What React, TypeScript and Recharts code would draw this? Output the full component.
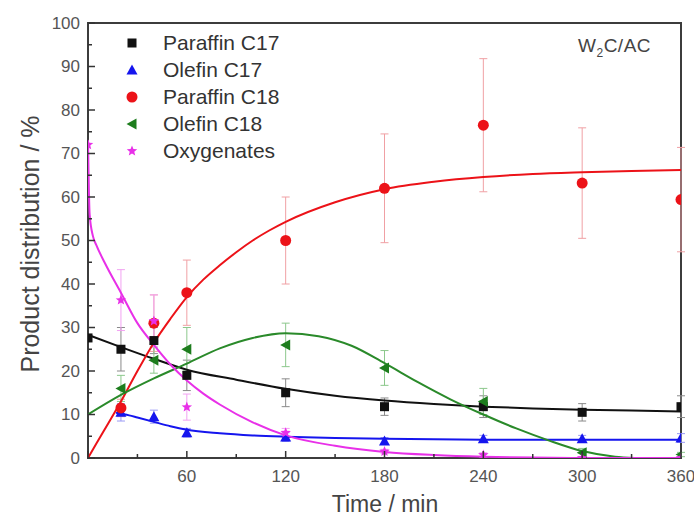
import {
  ComposedChart,
  ErrorBar,
  Line,
  ReferenceArea,
  Scatter,
  XAxis,
  YAxis,
} from "recharts"

// sampled reaction times (min)
const times = [0, 20, 40, 60, 120, 180, 240, 300, 360]

// measured product distribution (%), null = not measured
const paraffinC17 = [27.6, 25, 27, 19, 15, 11.8, 11.8, 10.5, 11.8]
const paraffinC17Err = [0, 5, 3, 3.5, 3.2, 2, 2.5, 2, 2.5]
const olefinC17 = [null, 10.5, 9.5, 5.8, 4.8, 3.9, 4.4, 4.4, 4.6]
const olefinC17Err = [0, 2, 1.5, 1, 1, 0.8, 0.8, 0.8, 1]
const paraffinC18 = [null, 11.5, 31, 38, 50, 62, 76.5, 63.2, 59.4]
const paraffinC18Err = [0, 2, 6.5, 7.5, 10, 12.5, 15.3, 12.7, 12]
const olefinC18 = [null, 16, 22.5, 25, 26, 20.7, 13, 1.2, 0.8]
const olefinC18Err = [0, 3, 3, 5, 5, 4, 3, 1, 0.5]
const oxygenates = [72, 36.3, 31.5, 11.7, 5.8, 1.5, 0.7, 0, 0]
const oxygenatesErr = [0, 7, 6, 3, 1, 0.5, 0.5, 0, 0]

// fitted curves
const paraffinC17FitT = [0, 20, 40, 60, 90, 120, 150, 180, 210, 240, 270, 300, 330, 360]
const paraffinC17Fit = [28.3, 25.5, 22.8, 20.3, 18, 15.9, 14.3, 13.2, 12.4, 11.8, 11.4, 11.1, 10.9, 10.7]
const olefinC17FitT = [17, 25, 30, 40, 50, 60, 80, 100, 120, 150, 180, 240, 300, 360]
const olefinC17Fit = [10.4, 9.8, 9.3, 8.3, 7.3, 6.5, 5.7, 5.2, 4.9, 4.6, 4.4, 4.2, 4.2, 4.2]
const paraffinC18FitT = [0, 10, 20, 30, 40, 50, 60, 70, 80, 90, 100, 110, 120, 150, 180, 210, 240, 270, 300, 330, 360]
const paraffinC18Fit = [0, 6.5, 13, 20, 26.5, 32, 37, 41, 44.3, 47.3, 50, 52.3, 54.3, 58.8, 61.8, 63.5, 64.6, 65.3, 65.7, 66, 66.2]
const olefinC18FitT = [0, 20, 40, 60, 80, 100, 120, 140, 160, 180, 200, 220, 240, 260, 280, 300, 320, 332]
const olefinC18Fit = [10, 14.5, 18.3, 21.7, 25.2, 27.6, 28.7, 28, 25.8, 21.8, 17.5, 13.5, 10, 6.8, 4, 1.6, 0.3, 0]
const oxygenatesFitT = [0, 1, 3, 5, 10, 20, 30, 40, 50, 60, 70, 80, 100, 120, 150, 180, 210, 240, 270, 300, 360]
const oxygenatesFit = [73, 56, 51, 49, 45, 38, 31, 26, 21.5, 17.8, 14.8, 12.3, 8.2, 5.2, 2.8, 1.4, 0.7, 0.3, 0.1, 0, 0]

const xTicks = [0, 30, 60, 90, 120, 150, 180, 210, 240, 270, 300, 330, 360]
const yTicks = [0, 5, 10, 15, 20, 25, 30, 35, 40, 45, 50, 55, 60, 65, 70, 75, 80, 85, 90, 95, 100]

const FONT = "'Liberation Sans', Arial, sans-serif"

const C = {
  black: "#111111",
  blue: "#1515ee",
  red: "#ec1218",
  green: "#1d7d1d",
  magenta: "#e830e8",
}

function points(vals: (number | null)[], errs: number[]) {
  return times
    .map((t, i) => ({ t, v: vals[i], e: errs[i] }))
    .filter((d) => d.v !== null)
}

function curve(ts: number[], vs: number[]) {
  return ts.map((t, i) => ({ t, v: vs[i] }))
}

function starPath(cx: number, cy: number, ro: number, ri: number) {
  let d = ""
  for (let k = 0; k < 10; k++) {
    const r = k % 2 === 0 ? ro : ri
    const a = -Math.PI / 2 + (k * Math.PI) / 5
    d += (k === 0 ? "M" : "L") + (cx + r * Math.cos(a)).toFixed(2) + "," + (cy + r * Math.sin(a)).toFixed(2)
  }
  return d + "Z"
}

const square = (p: any) => <rect x={p.cx - 4.5} y={p.cy - 4.5} width={9} height={9} fill={C.black} />
const upTri = (p: any) => (
  <path d={`M${p.cx},${p.cy - 5.5}L${p.cx + 5.5},${p.cy + 4.5}L${p.cx - 5.5},${p.cy + 4.5}Z`} fill={C.blue} />
)
const dot = (p: any) => <circle cx={p.cx} cy={p.cy} r={5.5} fill={C.red} />
const leftTri = (p: any) => (
  <path d={`M${p.cx - 5.5},${p.cy}L${p.cx + 4.5},${p.cy - 5.5}L${p.cx + 4.5},${p.cy + 5.5}Z`} fill={C.green} />
)
const star = (p: any) => <path d={starPath(p.cx, p.cy, 5.5, 2.4)} fill={C.magenta} />

function XTick(props: any) {
  const { x, y, payload } = props
  const v = payload.value
  const major = v % 60 === 0
  return (
    <g>
      <line x1={x} x2={x} y1={y} y2={y - (major ? 7 : 4)} stroke="#333" strokeWidth={1.5} />
      {major && v !== 0 && (
        <text x={x} y={y + 24} textAnchor="middle" fontSize={17} fill="#555" fontFamily={FONT}>
          {v}
        </text>
      )}
    </g>
  )
}

function YTick(props: any) {
  const { x, y, payload } = props
  const v = payload.value
  const major = v % 10 === 0
  return (
    <g>
      <line x1={x} x2={x + (major ? 7 : 4)} y1={y} y2={y} stroke="#333" strokeWidth={1.5} />
      {major && (
        <text x={x - 8} y={y} dy="0.35em" textAnchor="end" fontSize={17} fill="#555" fontFamily={FONT}>
          {v}
        </text>
      )}
    </g>
  )
}

const legendRows = [
  { name: "Paraffin C17", shape: square },
  { name: "Olefin C17", shape: upTri },
  { name: "Paraffin C18", shape: dot },
  { name: "Olefin C18", shape: leftTri },
  { name: "Oxygenates", shape: star },
]

export default function App() {
  return (
    <div style={{ position: "absolute", left: 0, top: 0, width: 694, height: 521, background: "#fff", fontFamily: FONT }}>
      <ComposedChart width={694} height={521} margin={{ top: 23, right: 13, bottom: 0, left: 0 }}>
        <XAxis
          type="number"
          dataKey="t"
          domain={[0, 360]}
          ticks={xTicks}
          interval={0}
          allowDataOverflow
          height={63}
          axisLine={false}
          tickLine={false}
          tickSize={0}
          tickMargin={0}
          tick={<XTick />}
          label={{
            position: "insideBottom",
            content: () => (
              <text x={385} y={512} textAnchor="middle" fontSize={23} fill="#444" fontFamily={FONT}>
                Time / min
              </text>
            ),
          }}
        />
        <YAxis
          type="number"
          domain={[0, 100]}
          ticks={yTicks}
          interval={0}
          allowDataOverflow
          width={88}
          axisLine={false}
          tickLine={false}
          tickSize={0}
          tickMargin={0}
          tick={<YTick />}
          label={{
            position: "insideLeft",
            content: () => (
              <text
                x={30}
                y={244}
                transform="rotate(-90 30 244)"
                textAnchor="middle"
                dominantBaseline="central"
                fontSize={25}
                fill="#444"
                fontFamily={FONT}
              >
                Product distribution / %
              </text>
            ),
          }}
        />

        <Scatter data={points(paraffinC17, paraffinC17Err)} dataKey="v" shape={square} isAnimationActive={false}>
          <ErrorBar dataKey="e" direction="y" width={4} stroke="#8a8a8a" strokeWidth={1} />
        </Scatter>
        <Scatter data={points(olefinC17, olefinC17Err)} dataKey="v" shape={upTri} isAnimationActive={false}>
          <ErrorBar dataKey="e" direction="y" width={4} stroke="#9a9af5" strokeWidth={1} />
        </Scatter>
        <Scatter data={points(paraffinC18, paraffinC18Err)} dataKey="v" shape={dot} isAnimationActive={false}>
          <ErrorBar dataKey="e" direction="y" width={4} stroke="#f0a0a4" strokeWidth={1} />
        </Scatter>
        <Scatter data={points(olefinC18, olefinC18Err)} dataKey="v" shape={leftTri} isAnimationActive={false}>
          <ErrorBar dataKey="e" direction="y" width={4} stroke="#8cc88c" strokeWidth={1} />
        </Scatter>
        <Scatter data={points(oxygenates, oxygenatesErr)} dataKey="v" shape={star} isAnimationActive={false}>
          <ErrorBar dataKey="e" direction="y" width={4} stroke="#f2a2f2" strokeWidth={1} />
        </Scatter>

        <Line data={curve(paraffinC17FitT, paraffinC17Fit)} dataKey="v" type="monotone" stroke={C.black} strokeWidth={2} dot={false} isAnimationActive={false} />
        <Line data={curve(olefinC17FitT, olefinC17Fit)} dataKey="v" type="monotone" stroke={C.blue} strokeWidth={2} dot={false} isAnimationActive={false} />
        <Line data={curve(paraffinC18FitT, paraffinC18Fit)} dataKey="v" type="monotone" stroke={C.red} strokeWidth={2} dot={false} isAnimationActive={false} />
        <Line data={curve(olefinC18FitT, olefinC18Fit)} dataKey="v" type="monotone" stroke="#2a8a2a" strokeWidth={2} dot={false} isAnimationActive={false} />
        <Line data={curve(oxygenatesFitT, oxygenatesFit)} dataKey="v" type="monotone" stroke={C.magenta} strokeWidth={2} dot={false} isAnimationActive={false} />

        <ReferenceArea x1={0} x2={360} y1={0} y2={100} fill="none" stroke="#3c3c3c" strokeWidth={2} />
      </ComposedChart>

      {legendRows.map((row, i) => (
        <div
          key={row.name}
          style={{ position: "absolute", left: 124, top: 43 + i * 27 - 13, height: 26, display: "flex", alignItems: "center" }}
        >
          <svg width={16} height={16} style={{ display: "block" }}>
            {row.shape({ cx: 8, cy: 8 })}
          </svg>
          <span style={{ marginLeft: 23, fontSize: 21, color: "#333", lineHeight: "26px" }}>{row.name}</span>
        </div>
      ))}

      <div style={{ position: "absolute", left: 578, top: 36, fontSize: 19, color: "#444", lineHeight: "20px", letterSpacing: 0.5 }}>
        W<sub style={{ fontSize: 12 }}>2</sub>C/AC
      </div>
    </div>
  )
}
